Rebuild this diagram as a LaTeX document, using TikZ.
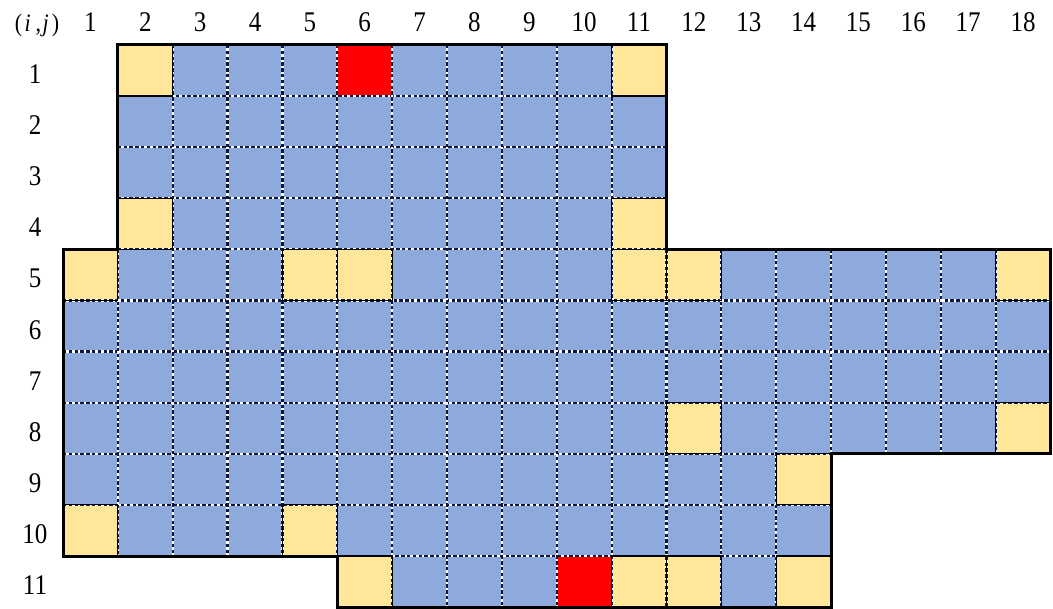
\documentclass[tikz,border=0pt]{standalone}
\usepackage{fontspec}
\usepackage{graphicx}
\setmainfont{Liberation Serif}
\definecolor{cellblue}{RGB}{142,169,219}
\definecolor{cellyellow}{RGB}{255,230,153}
\definecolor{cellred}{RGB}{255,0,0}
\definecolor{griddark}{RGB}{15,22,60}
\newcommand{\tall}[1]{\scalebox{1}[1.14]{#1}}
\begin{document}
\begin{tikzpicture}[x=1pt,y=-1pt,
  lbl/.style={font=\fontsize{25}{28}\selectfont, inner sep=0pt, anchor=base},
  gridw/.style={white, line width=2.2pt},
  gridd/.style={griddark, line width=2.2pt, dash pattern=on 3.4pt off 2.4pt},
  yborder/.style={black, line width=1.2pt},
  outline/.style={black, line width=3pt, line join=miter}]
\useasboundingbox (0,0) rectangle (1053,609);
% labels
\node[lbl, font=\fontsize{22}{25}\selectfont] (ij) at (37,32) {\tall{(\hspace{2.5pt}\textit{i}\hspace{5pt},\hspace{1.5pt}\textit{j}\hspace{3pt})}};
\foreach \j in {1,...,18} {
  \pgfmathsetmacro\cx{63+(\j-0.5)*54.86}
  \node[lbl] (c\j) at (\cx,32) {\tall{\j}};
}
\foreach \i in {1,...,11} {
  \pgfmathsetmacro\cy{45+(\i-0.5)*51.1+13}
  \node[lbl] (r\i) at (35,\cy) {\tall{\i}};
}
\begin{scope}[shift={(63,45)}, x=54.86pt, y=-51.1pt]
  \fill[cellblue] (1,0) -- (11,0) -- (11,4) -- (18,4) -- (18,8) -- (14,8) -- (14,11) -- (5,11) -- (5,10) -- (0,10) -- (0,4) -- (1,4) -- cycle;
  \foreach \i/\j in {1/2,1/11,4/2,4/11,5/1,5/5,5/6,5/11,5/12,5/18,8/12,8/18,9/14,10/1,10/5,11/6,11/11,11/12,11/14}
    \fill[cellyellow] (\j-1,\i-1) rectangle (\j,\i);
  \foreach \i/\j in {1/6,11/10}
    \fill[cellred] (\j-1,\i-1) rectangle (\j,\i);
  % dotted grid lines
  \foreach \r/\a/\b in {1/1/11,2/1/11,3/1/11,4/1/11,5/0/18,6/0/18,7/0/18,8/0/14,9/0/14,10/5/14} {
    \draw[gridw] (\a,\r) -- (\b,\r);
    \draw[gridd] (\a,\r) -- (\b,\r);
  }
  \foreach \c/\a/\b in {1/4/10,2/0/10,3/0/10,4/0/10,5/0/10,6/0/11,7/0/11,8/0/11,9/0/11,10/0/11,11/4/11,12/4/11,13/4/11,14/4/8,15/4/8,16/4/8,17/4/8} {
    \draw[gridw] (\c,\a) -- (\c,\b);
    \draw[gridd] (\c,\a) -- (\c,\b);
  }
  \foreach \i/\j in {1/2,1/11,4/2,4/11,5/1,5/5,5/6,5/11,5/12,5/18,8/12,8/18,9/14,10/1,10/5,11/6,11/11,11/12,11/14}
    \draw[yborder] (\j-1,\i-1) rectangle (\j,\i);
  \draw[outline] (1,0) -- (11,0) -- (11,4) -- (18,4) -- (18,8) -- (14,8) -- (14,11) -- (5,11) -- (5,10) -- (0,10) -- (0,4) -- (1,4) -- cycle;
\end{scope}
\end{tikzpicture}
\end{document}
